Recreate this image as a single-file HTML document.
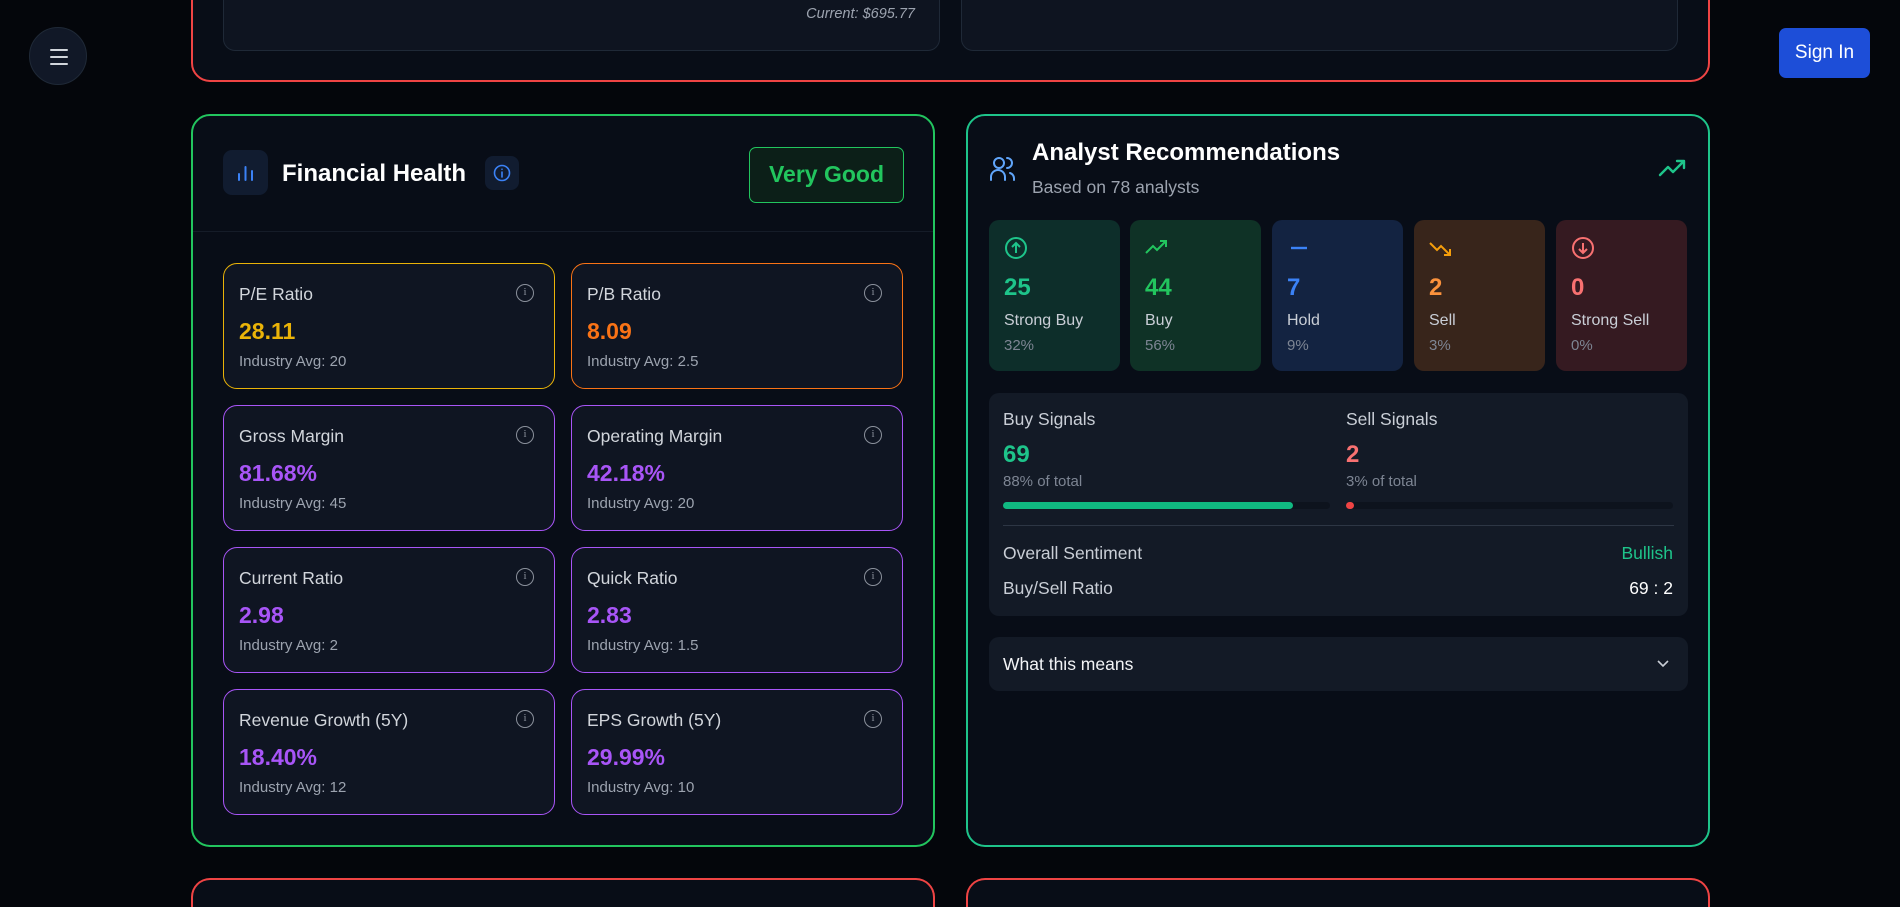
<!DOCTYPE html>
<html style="width:1900px;height:907px;overflow:hidden"><head><meta charset="utf-8"><style>
*{box-sizing:border-box;margin:0;padding:0}
body{width:1900px;height:907px;overflow:hidden;background:#04060b;font-family:"Liberation Sans",sans-serif;position:relative;color:#e5e7eb}
.a{position:absolute}
.panel{position:absolute;border-radius:19px;background:#080d17}
.card{position:absolute;border-radius:14px;background:#0f1522;border:1.5px solid #a855f7}
.lbl{position:absolute;left:15px;top:20px;font-size:17.5px;color:#d1d5db}
.val{position:absolute;left:15px;top:54px;font-size:23px;font-weight:bold;color:#a855f7}
.avg{position:absolute;left:15px;top:89px;font-size:15px;color:#9ca3af}
.inf{position:absolute;right:20px;top:20px;width:18px;height:18px;border:1.5px solid #8b919c;border-radius:50%;font-size:11px;color:#8b919c;text-align:center;line-height:15px;font-family:"Liberation Serif",serif}
.rec{position:absolute;top:220px;width:131px;height:151px;border-radius:10px}
.rec .ic{position:absolute;left:15px;top:16px}
.rec .n{position:absolute;left:15px;top:54px;font-size:24px;font-weight:bold}
.rec .t{position:absolute;left:15px;top:92px;font-size:16px;color:#c9ced6}
.rec .p{position:absolute;left:15px;top:117px;font-size:15px;color:#7d8593}
</style></head><body>
<div class="panel" style="left:191px;top:-30px;width:1519px;height:112px;border:2px solid #ef4444"></div>
<div class="a" style="left:223px;top:-20px;width:717px;height:71px;border:1px solid #1f2937;border-radius:12px;background:#0e1420"></div>
<div class="a" style="left:961px;top:-20px;width:717px;height:71px;border:1px solid #1f2937;border-radius:12px;background:#0e1420"></div>
<div class="a" style="left:700px;top:6px;width:215px;text-align:right;font-size:14.5px;font-style:italic;color:#9ca3af">Current: $695.77</div>
<div class="a" style="left:29px;top:27px;width:58px;height:58px;border-radius:50%;background:#111827;border:1px solid #1f2937"><svg width="58" height="58"><path d="M21 22h16M21 29h16M21 36h16" stroke="#d1d5db" stroke-width="2" stroke-linecap="round"/></svg></div>
<div class="a" style="left:1779px;top:28px;width:91px;height:50px;border-radius:7px;background:#1d4ed8;color:#fff;font-size:19px;text-align:center;line-height:50px">Sign In</div>

<div class="panel" style="left:191px;top:114px;width:744px;height:733px;border:2px solid #22c55e">
  <div class="a" style="left:30px;top:34px;width:45px;height:45px;border-radius:9px;background:#111c30"><svg width="45" height="45"><path d="M16 30v-6M22.5 30v-13M29 30v-9" stroke="#3b82f6" stroke-width="2" stroke-linecap="round"/></svg></div>
  <div class="a" style="left:89px;top:44px;font-size:24px;font-weight:bold;color:#fff">Financial Health</div>
  <div class="a" style="left:292px;top:40px;width:34px;height:34px;border-radius:8px;background:#111c30"><svg width="34" height="34"><circle cx="17" cy="17" r="7.5" fill="none" stroke="#3b82f6" stroke-width="1.6"/><path d="M17 16v5M17 13.2v.1" stroke="#3b82f6" stroke-width="1.6" stroke-linecap="round"/></svg></div>
  <div class="a" style="left:556px;top:31px;width:155px;height:56px;border:1.5px solid #22c55e;border-radius:7px;background:#0c1f18;color:#22c55e;font-size:23px;font-weight:bold;text-align:center;line-height:53px">Very Good</div>
  <div class="a" style="left:0;top:115px;width:740px;height:1px;background:#151c28"></div>
</div>
<div class="card" style="left:223px;top:263px;width:332px;height:126px;border-color:#eab308"><div class="lbl">P/E Ratio</div><div class="inf">i</div><div class="val" style="color:#eab308">28.11</div><div class="avg">Industry Avg: 20</div></div>
<div class="card" style="left:571px;top:263px;width:332px;height:126px;border-color:#f97316"><div class="lbl">P/B Ratio</div><div class="inf">i</div><div class="val" style="color:#f97316">8.09</div><div class="avg">Industry Avg: 2.5</div></div>
<div class="card" style="left:223px;top:405px;width:332px;height:126px"><div class="lbl">Gross Margin</div><div class="inf">i</div><div class="val">81.68%</div><div class="avg">Industry Avg: 45</div></div>
<div class="card" style="left:571px;top:405px;width:332px;height:126px"><div class="lbl">Operating Margin</div><div class="inf">i</div><div class="val">42.18%</div><div class="avg">Industry Avg: 20</div></div>
<div class="card" style="left:223px;top:547px;width:332px;height:126px"><div class="lbl">Current Ratio</div><div class="inf">i</div><div class="val">2.98</div><div class="avg">Industry Avg: 2</div></div>
<div class="card" style="left:571px;top:547px;width:332px;height:126px"><div class="lbl">Quick Ratio</div><div class="inf">i</div><div class="val">2.83</div><div class="avg">Industry Avg: 1.5</div></div>
<div class="card" style="left:223px;top:689px;width:332px;height:126px"><div class="lbl">Revenue Growth (5Y)</div><div class="inf">i</div><div class="val">18.40%</div><div class="avg">Industry Avg: 12</div></div>
<div class="card" style="left:571px;top:689px;width:332px;height:126px"><div class="lbl">EPS Growth (5Y)</div><div class="inf">i</div><div class="val">29.99%</div><div class="avg">Industry Avg: 10</div></div>

<div class="panel" style="left:966px;top:114px;width:744px;height:733px;border:2px solid #1ec48a"></div>
<svg class="a" style="left:988px;top:153px" width="30" height="30"><circle cx="11" cy="10" r="5" fill="none" stroke="#60a5fa" stroke-width="2"/><path d="M3 27v-3a7 7 0 0 1 14 0v3M19 5a5 5 0 0 1 0 10M22 20a6 6 0 0 1 4 5v2" fill="none" stroke="#60a5fa" stroke-width="2" stroke-linecap="round"/></svg>
<div class="a" style="left:1032px;top:139px;font-size:24px;font-weight:bold;color:#fff">Analyst Recommendations</div>
<div class="a" style="left:1032px;top:177px;font-size:17.5px;color:#9ca3af">Based on 78 analysts</div>
<svg class="a" style="left:1658px;top:155px" width="30" height="26"><path d="M2 20l8-8 5 5 11-11M19 6h7v7" fill="none" stroke="#1ec48a" stroke-width="2.4" stroke-linecap="round" stroke-linejoin="round"/></svg>

<div class="rec" style="left:989px;background:#0d2e2a"><svg class="ic" width="24" height="24"><circle cx="12" cy="12" r="10" fill="none" stroke="#1ec48a" stroke-width="2"/><path d="M12 17V7M8 11l4-4 4 4" fill="none" stroke="#1ec48a" stroke-width="2"/></svg><div class="n" style="color:#1ec48a">25</div><div class="t">Strong Buy</div><div class="p">32%</div></div>
<div class="rec" style="left:1130px;background:#0f3226"><svg class="ic" width="24" height="24"><path d="M1 17l7-7 4 4 9-9M15 5h6v6" fill="none" stroke="#22c55e" stroke-width="2"/></svg><div class="n" style="color:#22c55e">44</div><div class="t">Buy</div><div class="p">56%</div></div>
<div class="rec" style="left:1272px;background:#132341"><svg class="ic" width="24" height="24"><path d="M4 12h16" stroke="#3b82f6" stroke-width="2.4"/></svg><div class="n" style="color:#3b82f6">7</div><div class="t">Hold</div><div class="p">9%</div></div>
<div class="rec" style="left:1414px;background:#38251b"><svg class="ic" width="24" height="24"><path d="M1 7l7 7 4-4 9 9M15 19h6v-6" fill="none" stroke="#f59e0b" stroke-width="2"/></svg><div class="n" style="color:#fb923c">2</div><div class="t">Sell</div><div class="p">3%</div></div>
<div class="rec" style="left:1556px;background:#351a21"><svg class="ic" width="24" height="24"><circle cx="12" cy="12" r="10" fill="none" stroke="#f87171" stroke-width="2"/><path d="M12 7v10M8 13l4 4 4-4" fill="none" stroke="#f87171" stroke-width="2"/></svg><div class="n" style="color:#f87171">0</div><div class="t">Strong Sell</div><div class="p">0%</div></div>

<div class="a" style="left:989px;top:393px;width:699px;height:223px;border-radius:10px;background:#131a26">
  <div class="a" style="left:14px;top:16px;font-size:17.5px;color:#c9ced6">Buy Signals</div>
  <div class="a" style="left:14px;top:48px;font-size:24px;font-weight:bold;color:#1ec48a">69</div>
  <div class="a" style="left:14px;top:80px;font-size:15px;color:#7d8593">88% of total</div>
  <div class="a" style="left:14px;top:109px;width:327px;height:7px;border-radius:4px;background:#0d131d"><div style="width:290px;height:7px;border-radius:4px;background:#10b981"></div></div>
  <div class="a" style="left:357px;top:16px;font-size:17.5px;color:#c9ced6">Sell Signals</div>
  <div class="a" style="left:357px;top:48px;font-size:24px;font-weight:bold;color:#f87171">2</div>
  <div class="a" style="left:357px;top:80px;font-size:15px;color:#7d8593">3% of total</div>
  <div class="a" style="left:357px;top:109px;width:327px;height:7px;border-radius:4px;background:#0d131d"><div style="width:8px;height:7px;border-radius:4px;background:#ef4444"></div></div>
  <div class="a" style="left:14px;top:132px;width:671px;height:1px;background:#2d3644"></div>
  <div class="a" style="left:14px;top:150px;font-size:17.5px;color:#c9ced6">Overall Sentiment</div>
  <div class="a" style="right:15px;top:150px;font-size:17.5px;color:#1ec48a">Bullish</div>
  <div class="a" style="left:14px;top:185px;font-size:17.5px;color:#c9ced6">Buy/Sell Ratio</div>
  <div class="a" style="right:15px;top:185px;font-size:17.5px;color:#fff">69 : 2</div>
</div>
<div class="a" style="left:989px;top:637px;width:699px;height:54px;border-radius:10px;background:#131a26">
  <div class="a" style="left:14px;top:17px;font-size:17.5px;color:#f3f4f6">What this means</div>
  <svg class="a" style="left:667px;top:21px" width="14" height="12"><path d="M2 3l5 5 5-5" fill="none" stroke="#c9ced6" stroke-width="1.6"/></svg>
</div>

<div class="panel" style="left:191px;top:878px;width:744px;height:29px;border:2px solid #ef4444;border-bottom:none;border-radius:19px 19px 0 0"></div>
<div class="panel" style="left:966px;top:878px;width:744px;height:29px;border:2px solid #ef4444;border-bottom:none;border-radius:19px 19px 0 0"></div>
</body></html>
